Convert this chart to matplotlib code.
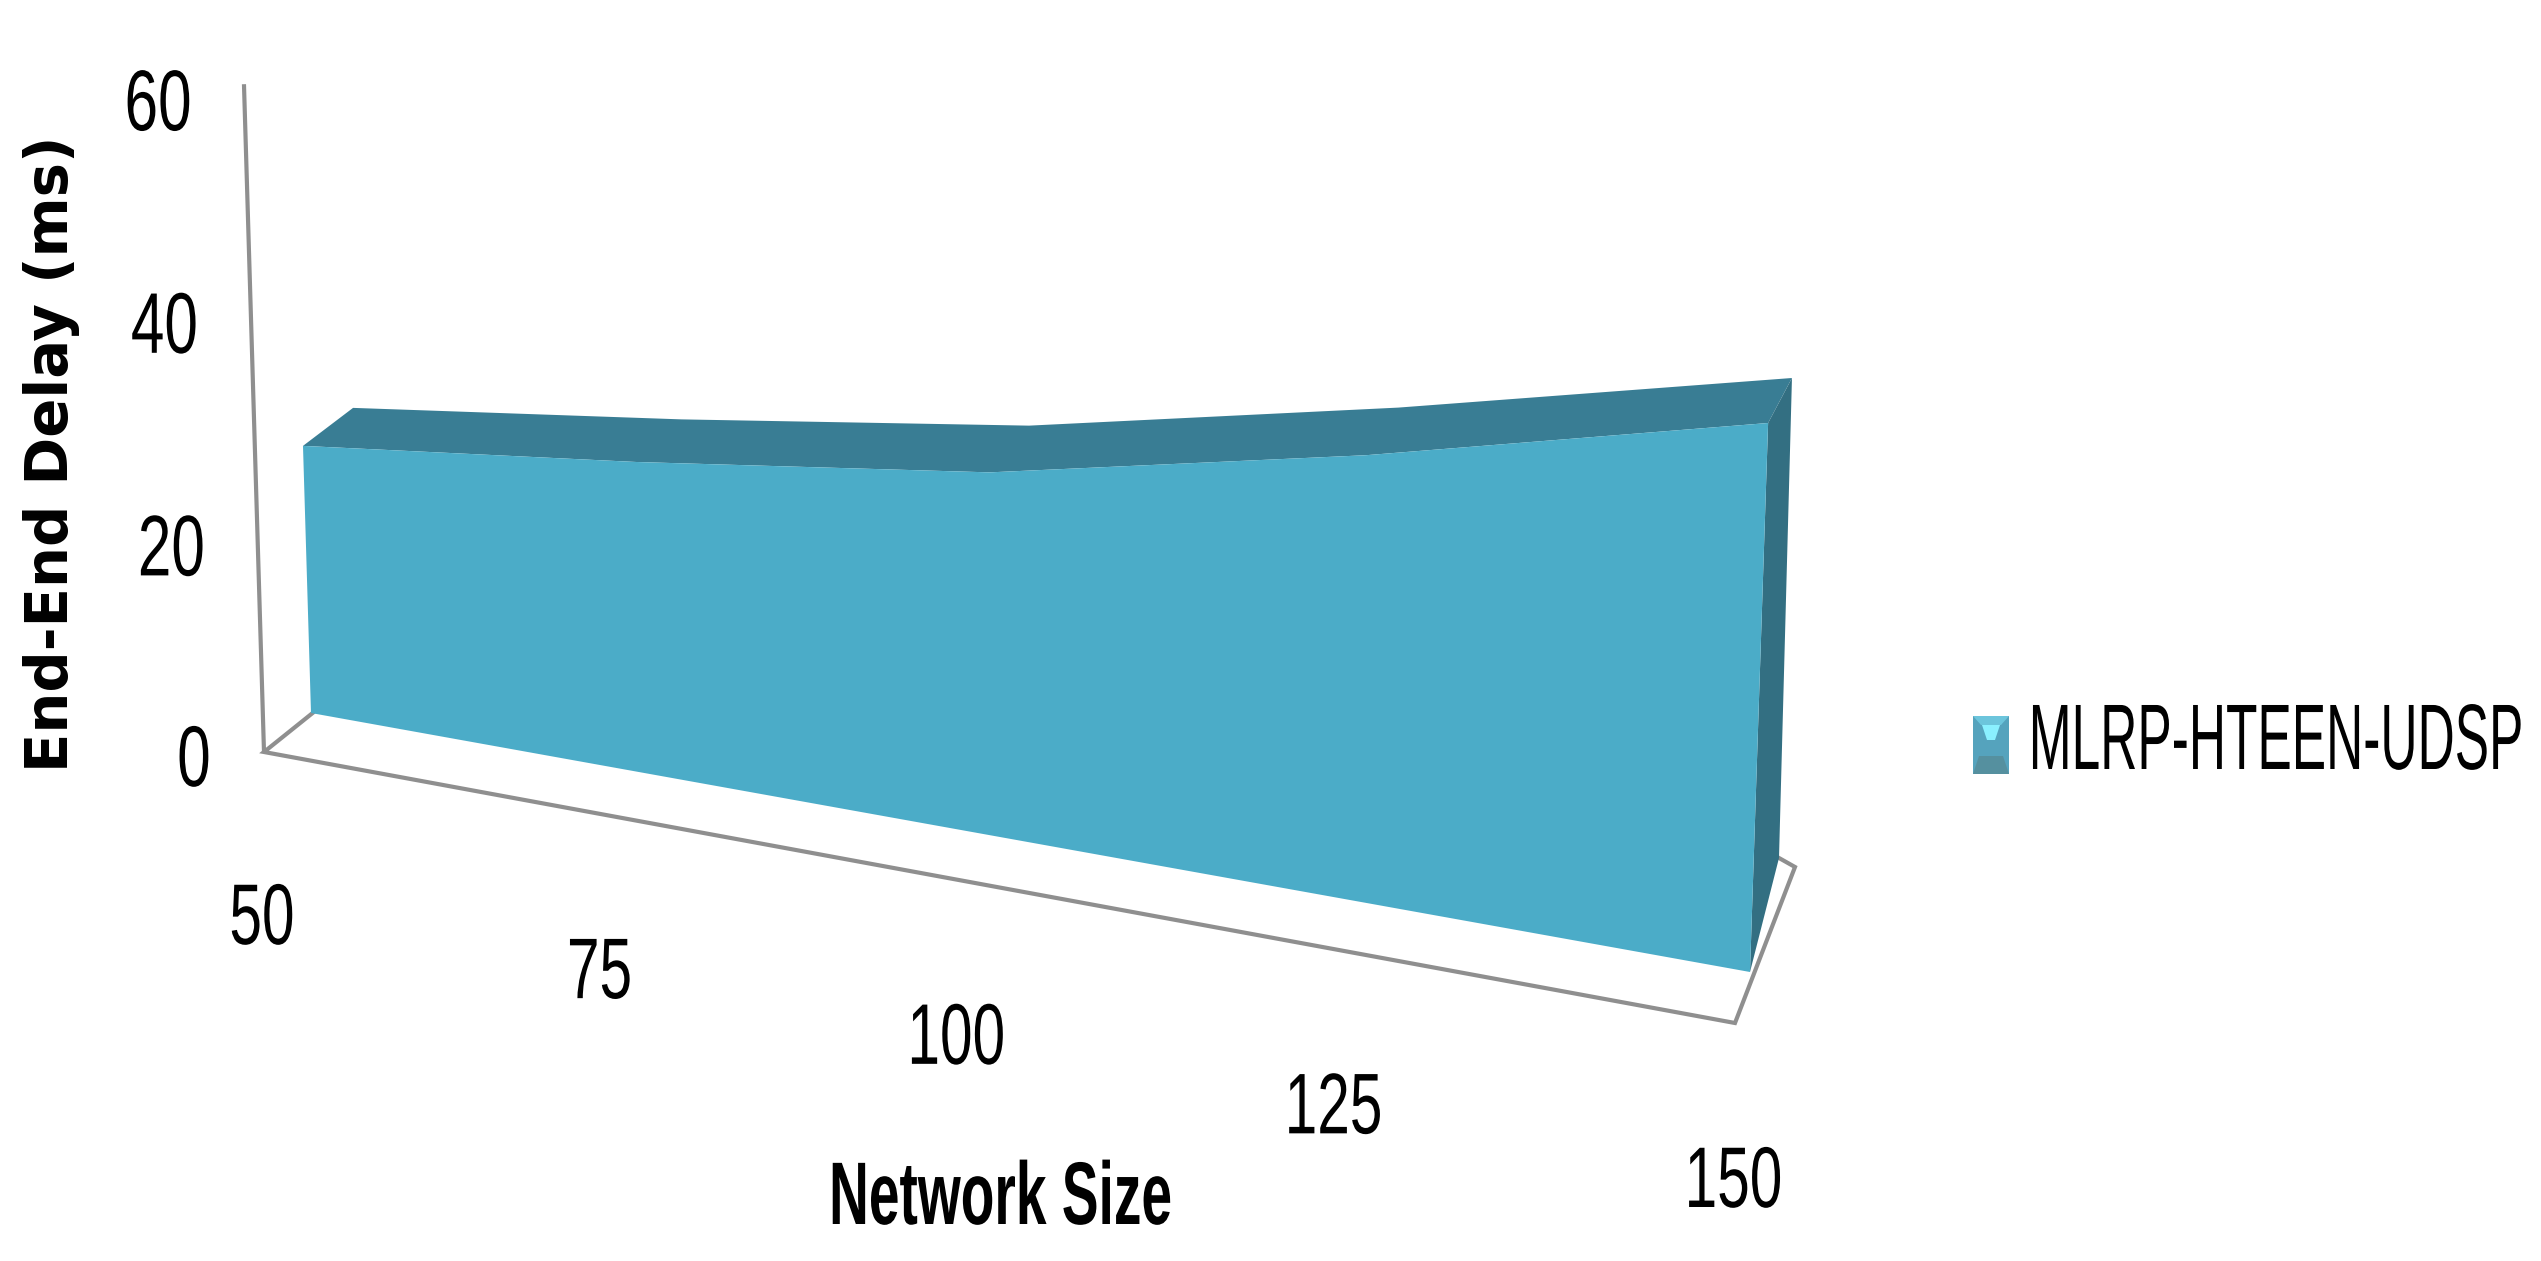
import matplotlib
matplotlib.use("Agg")
import matplotlib.pyplot as plt
from matplotlib.patches import Polygon
from matplotlib.patheffects import AbstractPathEffect
from matplotlib.text import Text
from matplotlib.transforms import Affine2D, Bbox
import numpy as np

plt.rcParams['font.family'] = ['Liberation Sans', 'DejaVu Sans']

# data
network_size = [50, 75, 100, 125, 150]
delay = [24, 24.3, 25, 27.3, 30]
yticks = [0, 20, 40, 60]
series_name = "MLRP-HTEEN-UDSP"

# 3d look, all in figure pixels: (left end, right end, px per unit left, right, lean left, right)
persp = 1.12
floor_front = ((264, 752), (1735, 1023), 11.13, 11.13, -0.03, -0.03)
plane_front = ((311, 713), (1750, 972), 11.13, 18.3, -0.03, 0.033)
plane_back = ((360, 675), (1779, 858), 11.13, 16.0, -0.026, 0.027)
floor_right = (1795, 867)


def xpos(size):
    t = (size - network_size[0]) / (network_size[-1] - network_size[0])
    return t / (t + persp * (1 - t))


def proj(size, val, plane):
    u = xpos(size)
    p0, p1, s0, s1, l0, l1 = plane
    base = np.array(p0) + (np.array(p1) - np.array(p0)) * u
    h = (s0 + (s1 - s0) * u) * val
    return base[0] + (l0 + (l1 - l0) * u) * h, base[1] - h


# no narrow font here, so squeeze the glyphs sideways around the anchor of the text
class Squeeze(AbstractPathEffect):
    def __init__(self, sx, ha):
        super().__init__()
        self.sx = sx
        self.ha = ha

    def draw_path(self, renderer, gc, tpath, affine, rgbFace=None):
        ext = tpath.get_extents()
        cx = ext.x1 if self.ha == "right" else (ext.x0 + ext.x1) / 2
        squeeze = Affine2D().translate(-cx, 0).scale(self.sx, 1).translate(cx, 0)
        renderer.draw_path(gc, tpath, squeeze + affine, rgbFace)


class NarrowText(Text):
    def __init__(self, x, y, s, sx, ha="center", **kw):
        super().__init__(x, y, s, ha=ha, va="center", **kw)
        self.sx = sx
        self.anchor_ha = ha
        self.set_path_effects([Squeeze(sx, ha)])

    def get_window_extent(self, renderer=None, dpi=None):
        bb = super().get_window_extent(renderer, dpi)
        if self.anchor_ha == "right":
            return Bbox([[bb.x1 - bb.width * self.sx, bb.y0], [bb.x1, bb.y1]])
        half = bb.width * self.sx / 2
        cx = (bb.x0 + bb.x1) / 2
        return Bbox([[cx - half, bb.y0], [cx + half, bb.y1]])


def narrow(x, y, s, sx, **kw):
    t = NarrowText(x, y, s, sx, color="black", **kw)
    ax.add_artist(t)
    return t


fig = plt.figure(figsize=(25.41, 12.61), dpi=100)
ax = fig.add_axes([0, 0, 1, 1])
ax.set_xlim(0, 2541)
ax.set_ylim(1261, 0)
ax.axis("off")

# axis lines and floor
gray = "#8f8f8f"
origin = proj(50, 0, floor_front)
wall = [origin, proj(50, 60, floor_front)]
ax.plot(*zip(*wall), color=gray, lw=3, solid_capstyle="butt")
floor = [proj(50, 0, plane_back), origin, proj(150, 0, floor_front), floor_right, proj(150, 0, plane_back)]
ax.plot(*zip(*floor), color=gray, lw=3, solid_joinstyle="miter")

# top, side, front of the area
top_pts = [proj(s, v, plane_front) for s, v in zip(network_size, delay)] + \
          [proj(s, v, plane_back) for s, v in zip(network_size[::-1], delay[::-1])]
ax.add_patch(Polygon(top_pts, closed=True, fc="#397d94", ec="none", zorder=3))

side_pts = [proj(150, 0, plane_front), proj(150, 0, plane_back),
            proj(150, delay[-1], plane_back), proj(150, delay[-1], plane_front)]
ax.add_patch(Polygon(side_pts, closed=True, fc="#336f82", ec="none", zorder=3))

front_pts = [proj(s, v, plane_front) for s, v in zip(network_size, delay)] + \
            [proj(network_size[-1], 0, plane_front), proj(network_size[0], 0, plane_front)]
ax.add_patch(Polygon(front_pts, closed=True, fc="#4bacc8", ec="none", zorder=4))

# tick labels
for v in yticks:
    x, y = proj(50, v, floor_front)
    narrow(x - 56 - (14 if v == 0 else 30), y + (12 if v == 0 else 24), str(v), 0.7, fontsize=62)
for s in network_size:
    x, y = proj(s, 0, floor_front)
    narrow(x - 2, y + (170 if s == 50 else 162), str(s), 0.68, fontsize=62)

ax.text(52, 454, "End-End Delay (ms)", fontsize=41.5, fontweight="bold", rotation=90,
        ha="center", va="center", family="DejaVu Sans")
narrow(1000, 1201, "Network Size", 0.62, fontsize=64, fontweight="bold")

# legend
lx0, lx1, ly0, ly1 = 1973, 2009, 716, 774
ax.add_patch(Polygon([(lx0, ly0), (lx1, ly0), (lx1, ly1), (lx0, ly1)], fc="#55a3bd", ec="none"))
ax.add_patch(Polygon([(lx0, ly0), (lx1, ly0), (lx1 - 8, ly0 + 9), (lx0 + 8, ly0 + 9)], fc="#6cc5dc", ec="none"))
ax.add_patch(Polygon([(lx0, ly1), (lx1, ly1), (lx1 - 6, ly1 - 18), (lx0 + 6, ly1 - 18)], fc="#55909f", ec="none"))
ax.add_patch(Polygon([(lx0 + 9, ly0 + 9), (lx1 - 9, ly0 + 9), (lx1 - 14, ly0 + 24), (lx0 + 14, ly0 + 24)], fc="#8af0ff", ec="none"))
narrow(2525, 745, series_name, 0.553, ha="right", fontsize=67)

fig.savefig("out.png", dpi=100, facecolor="white")
